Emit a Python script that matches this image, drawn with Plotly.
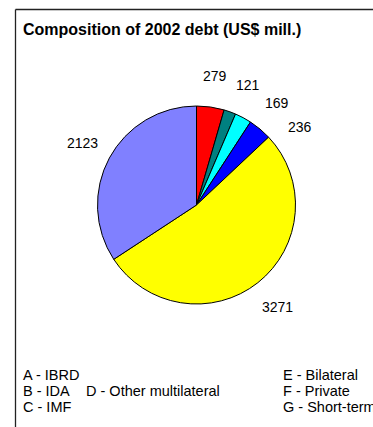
import math
import plotly.graph_objects as go

W, H = 373, 427

values = [279, 121, 169, 236, 3271, 2123]
slice_names = ["A - IBRD", "B - IDA", "C - IMF", "D - Other multilateral", "E - Bilateral", "F - Private"]
colors = ["#FF0000", "#008080", "#00FFFF", "#0000FF", "#FFFF00", "#8080FF"]
legend_labels = ["A - IBRD", "B - IDA", "C - IMF", "D - Other multilateral",
                 "E - Bilateral", "F - Private", "G - Short-term"]
title_text = "Composition of 2002 debt (US$ mill.)"

FONT = "Liberation Sans, Arial, sans-serif"

# pie geometry (pixels)
CX, CY, R = 196.5, 205.0, 99.0
LABEL_R = 130.0
MIN_GAP_DEG = 15.0


def px(x):
    return x / W


def py(y):
    return 1 - y / H


fig = go.Figure()
fig.add_trace(go.Pie(
    values=values,
    labels=slice_names,
    sort=False,
    direction="clockwise",
    rotation=0,
    marker=dict(colors=colors, line=dict(color="black", width=1)),
    textinfo="none",
    showlegend=False,
    hoverinfo="label+value",
    domain=dict(x=[px(CX - R), px(CX + R)], y=[py(CY + R), py(CY - R)]),
))

annotations = [dict(x=px(21), y=py(30), xref="paper", yref="paper", text="<b>" + title_text + "</b>",
                    showarrow=False, xanchor="left", yanchor="middle",
                    font=dict(family=FONT, size=16, color="black"))]

# value labels placed around the pie at each slice's mid-angle (spread apart when crowded)
total = float(sum(values))
cum = 0.0
label_angles = []
for v in values:
    mid = (cum + v / 2.0) / total * 360.0
    if label_angles and mid < label_angles[-1] + MIN_GAP_DEG:
        mid = label_angles[-1] + MIN_GAP_DEG
    label_angles.append(mid)
    cum += v

for v, ang in zip(values, label_angles):
    a = math.radians(ang)
    lx = CX + LABEL_R * math.sin(a)
    ly = CY - LABEL_R * math.cos(a)
    annotations.append(dict(x=px(lx), y=py(ly), xref="paper", yref="paper", text=str(v),
                            showarrow=False, xanchor="center", yanchor="middle",
                            font=dict(family=FONT, size=14, color="black")))

legend_pos = [(21, 375), (21, 391), (21, 407), (84, 391), (281, 375), (281, 391), (281, 407)]
for lbl, (lx, ly) in zip(legend_labels, legend_pos):
    annotations.append(dict(x=px(lx), y=py(ly), xref="paper", yref="paper", text=lbl,
                            showarrow=False, xanchor="left", yanchor="middle",
                            font=dict(family=FONT, size=14.5, color="black")))

fig.update_layout(
    width=W, height=H,
    margin=dict(l=0, r=0, t=0, b=0),
    paper_bgcolor="white",
    plot_bgcolor="white",
    annotations=annotations,
    shapes=[
        dict(type="line", xref="paper", yref="paper", x0=px(15.5), x1=px(W + 5), y0=py(9.5), y1=py(9.5),
             line=dict(color="#222222", width=1.3)),
        dict(type="line", xref="paper", yref="paper", x0=px(15.5), x1=px(15.5), y0=py(9.5), y1=py(H + 5),
             line=dict(color="#222222", width=1.3)),
    ],
)

fig.write_html("out.html")
